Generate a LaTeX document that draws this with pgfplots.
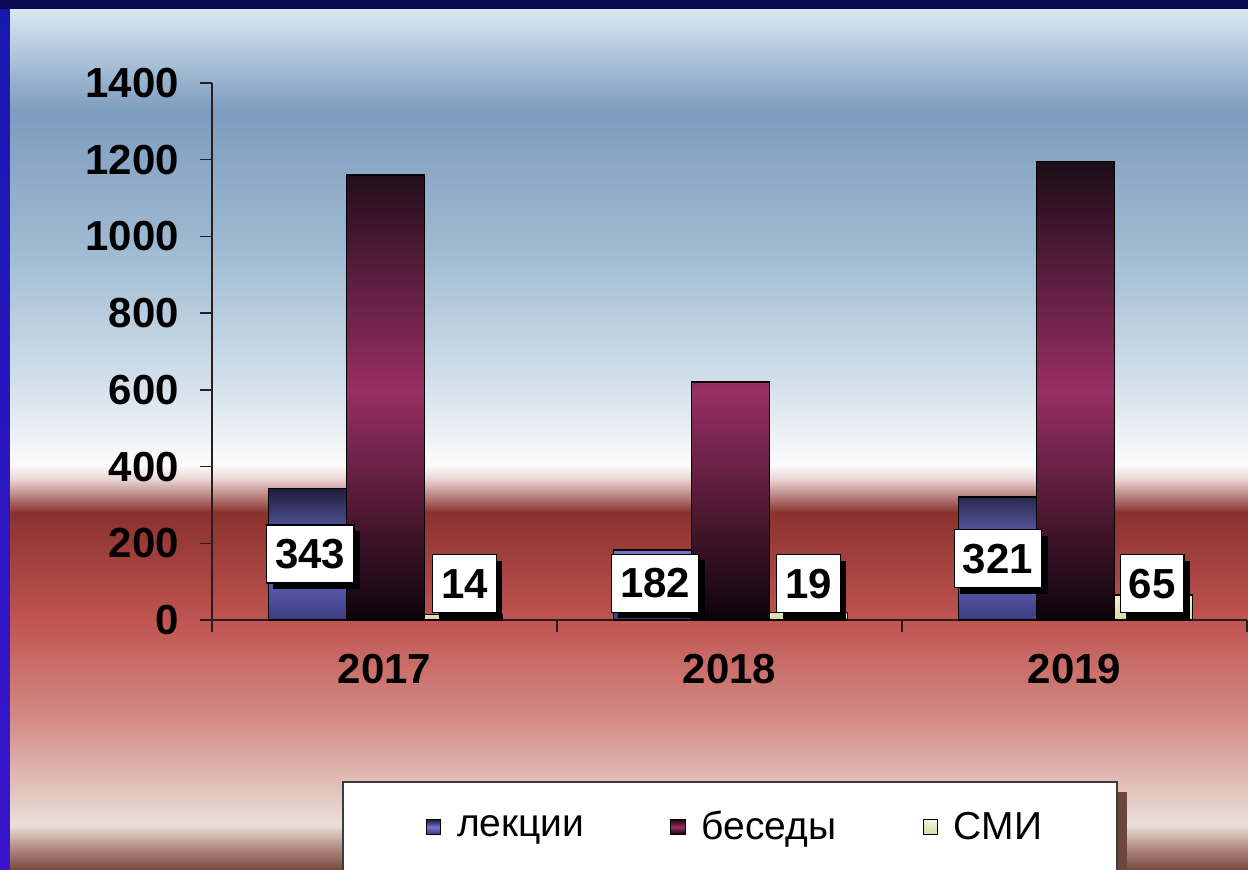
\documentclass[border=0pt]{standalone}
\usepackage{pgfplots}
\pgfplotsset{compat=1.18}
\usepackage{fontspec}
\setmainfont{Liberation Sans}
\usetikzlibrary{shadows}
\definecolor{navy}{HTML}{0A0A50}
\definecolor{stripA}{HTML}{1818B0}
\definecolor{stripB}{HTML}{3A14CC}
\definecolor{bg1}{HTML}{D9E7F2}
\definecolor{bg2}{HTML}{7D9CBE}
\definecolor{bg3}{HTML}{9FBBD2}
\definecolor{bg4}{HTML}{D2DFEA}
\definecolor{bg5}{HTML}{FCFCFC}
\definecolor{bg6}{HTML}{E8D0D0}
\definecolor{bg7}{HTML}{8A322E}
\definecolor{bg8}{HTML}{C05450}
\definecolor{bg9}{HTML}{D48C86}
\definecolor{bg10}{HTML}{EAE0D9}
\definecolor{bg11}{HTML}{B8948A}
\definecolor{bg12}{HTML}{7A4A42}
\definecolor{legshadow}{HTML}{6E4640}
\definecolor{legframe}{HTML}{3C3C3C}
\definecolor{axline}{HTML}{281E1E}
\definecolor{lekA}{HTML}{1E1E3C}
\definecolor{lekB}{HTML}{7474D4}
\definecolor{lekC}{HTML}{3C3C80}
\definecolor{besA}{HTML}{1C0C18}
\definecolor{besB}{HTML}{982F62}
\definecolor{besC}{HTML}{0C0408}
\definecolor{smiA}{HTML}{F4F4D8}
\definecolor{smiB}{HTML}{D8D8A8}
\pgfplotsset{sqlegend/.style={legend image code/.code={\draw[##1, line width=0.5pt] (0pt,-3.6pt) rectangle (7.2pt,3.6pt);}}}
\newcommand{\seg}[4]{\fill[top color=#3, bottom color=#4, shading=axis] (10,#1) rectangle (1248,#2);}
\begin{document}
\begin{tikzpicture}
\begin{scope}[x=0.5pt,y=-0.5pt,shift={(0pt,434.5pt)}]
\fill[navy] (0,0) rectangle (1248,10.5);
\fill[top color=stripA, bottom color=stripB, shading=axis] (0,10) rectangle (10.5,869);
\seg{10}{110.5}{bg1}{bg2}
\seg{110}{250.5}{bg2}{bg3}
\seg{250}{380.5}{bg3}{bg4}
\seg{380}{465.5}{bg4}{bg5}
\seg{465}{480.5}{bg5}{bg6}
\seg{480}{512.5}{bg6}{bg7}
\seg{512}{620.5}{bg7}{bg8}
\seg{620}{720.5}{bg8}{bg9}
\seg{720}{825.5}{bg9}{bg10}
\seg{825}{845.5}{bg10}{bg11}
\seg{845}{869}{bg11}{bg12}
% legend frame
\fill[legshadow] (1117,792) rectangle (1127,869);
\draw[fill=white, draw=legframe, line width=0.6pt] (343,782) rectangle (1117,875);
\end{scope}
\begin{axis}[
  at={(106pt,124.5pt)}, anchor=south west,
  scale only axis, width=517.5pt, height=268.5pt,
  xmin=-0.5, xmax=2.5, ymin=0, ymax=1400,
  axis x line*=bottom, axis y line*=left,
  axis line style={draw=axline, line width=0.7pt},
  clip=false,
  xtick={0,1,2}, xticklabels={2017,2018,2019},
  minor xtick={-0.5,0.5,1.5,2.5},
  major x tick style={draw=none},
  minor x tick style={draw=axline, line width=0.7pt},
  minor tick length=6pt,
  ytick={0,200,...,1400},
  major tick length=6pt,
  ytick style={draw=axline, line width=0.7pt},
  tick align=outside,
  /pgf/number format/assume math mode=true,
  /pgf/number format/1000 sep={},
  ticklabel style={font=\fontsize{21}{24}\selectfont\bfseries},
  yticklabel style={xshift=-7pt},
  xticklabel style={yshift=-7.5pt},
  legend style={at={(0.5043,-0.3855)}, anchor=center, draw=none, fill=none,
    font=\fontsize{19.5}{22}\selectfont, legend columns=3,
    nodes={inner xsep=0pt},
    /tikz/every odd column/.append style={column sep=8pt},
    /tikz/every even column/.append style={column sep=43pt}},
  legend cell align=left,
]
\addplot[ybar, bar width=39pt, bar shift=-38.5pt, draw=black, line width=0.8pt,
  top color=lekA, bottom color=lekC, middle color=lekB, sqlegend]
  coordinates {(0,343) (1,182) (2,321)};
\addlegendentry{лекции}
\addplot[ybar, bar width=39pt, bar shift=0.5pt, draw=black, line width=0.8pt,
  top color=besA, bottom color=besC, middle color=besB, sqlegend]
  coordinates {(0,1160) (1,620) (2,1195)};
\addlegendentry{беседы}
\addplot[ybar, bar width=39pt, bar shift=39.5pt, draw=black, line width=0.6pt,
  top color=smiA, bottom color=smiB, sqlegend]
  coordinates {(0,14) (1,19) (2,65)};
\addlegendentry{СМИ}
% data labels
\addplot[draw=none, mark=none, forget plot, nodes near coords,
  point meta=explicit symbolic,
  every node near coord/.style={anchor=center, fill=white, draw=black, line width=0.6pt,
    drop shadow={shadow xshift=3pt, shadow yshift=-3pt, opacity=1, fill=black},
    font=\fontsize{21}{24}\selectfont\bfseries, inner xsep=4.3pt, inner ysep=0pt,
    minimum height=29pt}]
  coordinates {(-0.215,172)[343] (0.785,96)[182] (1.778,160)[321]
               (0.232,95)[14] (1.229,95)[19] (2.225,95)[65]};
\end{axis}
\pgfresetboundingbox
\path[use as bounding box] (0,0) rectangle (624pt,434.5pt);
\end{tikzpicture}
\end{document}
